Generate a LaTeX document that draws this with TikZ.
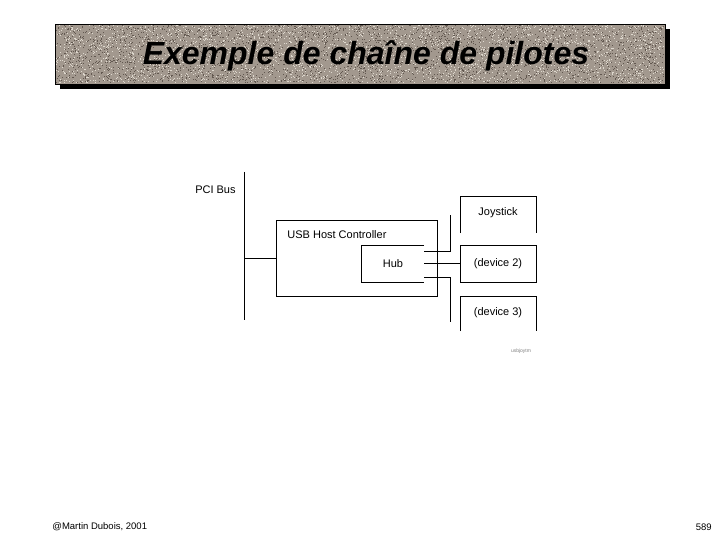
\documentclass[tikz,border=0pt]{standalone}
\usepackage{fontspec}
\setmainfont{Liberation Sans}
\definecolor{granite}{RGB}{162,152,142}
\definecolor{grainsombre}{RGB}{98,88,80}
\definecolor{grainclair}{RGB}{222,216,206}

\begin{document}
\begin{tikzpicture}[x=1pt, y=-1pt, line width=0.8pt, font=\fontsize{11}{13}\selectfont,
  lbl/.style={inner sep=0pt}]
\useasboundingbox (0,0) rectangle (720,540);
% Bandeau du titre
\fill[black] (60,29) rectangle (670,89);
\fill[granite] (55,24) rectangle (665,84);
\pgfmathsetseed{589}
\foreach \i in {1,...,3000} {
  \fill[grainsombre] (55.5+608*rnd, 24.5+58*rnd) rectangle ++(1,1);
}
\foreach \i in {1,...,2600} {
  \fill[grainclair] (55.5+608*rnd, 24.5+58*rnd) rectangle ++(1,1);
}
\draw[line width=0.8pt] (55,24) rectangle (665,84);
\node[lbl, font=\fontsize{32}{37}\selectfont\bfseries\itshape] (titre) at (366,56) {Exemple de chaîne de pilotes};
% Bus PCI
\coordinate (pcihaut) at (244,172);
\coordinate (pcibas) at (244,320);
\draw (pcihaut) -- (pcibas);
\node[lbl, anchor=east] (pci) at (236,190) {PCI Bus};
% Controleur USB
\node[draw, inner sep=0pt, minimum width=161pt, minimum height=75pt, anchor=north west] (usb) at (275.5,220.5) {};
\node[lbl, anchor=west] (usblbl) at (287,235) {USB Host Controller};
\draw (pcihaut |- usb.west) -- (usb.west);
% Hub (ouvert a droite)
\coordinate (hubhaut) at (424,245);
\coordinate (hubbas) at (424,282);
\draw (hubhaut) -- (361.5,245) -- (361.5,282) -- (hubbas);
\node[lbl] (hub) at (393,264) {Hub};
% Peripheriques
\draw (460,233) -- (460,196.5) -- (536,196.5) -- (536,233);
\node[lbl] (joy) at (498,213) {Joystick};
\node[draw, inner sep=0pt, minimum width=76pt, minimum height=37pt] (dev2) at (498,263.5) {(device 2)};
\draw (460,331) -- (460,296.5) -- (536,296.5) -- (536,331);
\node[lbl] (dev3) at (498,313) {(device 3)};
% Ports du hub
\coordinate (port1) at (424,251);
\coordinate (port2) at (424,263.5);
\coordinate (port3) at (424,277);
\coordinate (fin1) at (450,215);
\coordinate (fin3) at (450,322);
\draw (port1) -| (fin1);
\draw (port2) -- (dev2.west);
\draw (port3) -| (fin3);
\node[lbl, font=\fontsize{5}{6}\selectfont, text=gray] (ref) at (521,351) {usbjoytm};
% Pied de page
\node[lbl, anchor=west, font=\fontsize{9.5}{11}\selectfont] (auteur) at (52,527) {@Martin Dubois, 2001};
\node[lbl, anchor=east, font=\fontsize{9.5}{11}\selectfont] (page) at (712,527) {589};
\end{tikzpicture}
\end{document}
